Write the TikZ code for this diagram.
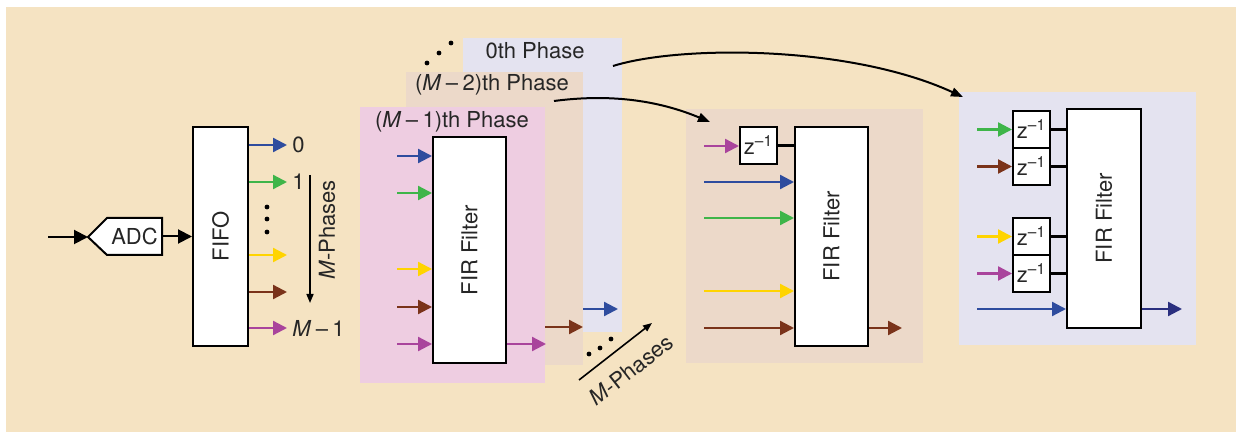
\documentclass[tikz,border=0pt]{standalone}
\usepackage{fontspec}
\setmainfont{TeX Gyre Heros}
\usepackage{xcolor}
\usetikzlibrary{arrows.meta,positioning,calc}
\definecolor{bgbeige}{HTML}{F5E3C2}
\definecolor{lavpanel}{HTML}{E4E3F0}
\definecolor{tanpanel}{HTML}{ECD9C9}
\definecolor{pinkpanel}{HTML}{EECDE1}
\definecolor{cblue}{HTML}{2E4C9E}
\definecolor{cgreen}{HTML}{3EB549}
\definecolor{cyellow}{HTML}{FFD400}
\definecolor{cbrown}{HTML}{7A331A}
\definecolor{cmagenta}{HTML}{A9449C}
\definecolor{cnavy}{HTML}{2A2F7F}

\begin{document}
\begin{tikzpicture}[x=0.5pt, y=-0.5pt,
    every node/.style={font=\fontsize{11}{13}\selectfont, text=black!85},
    box/.style={draw=black, line width=1pt, fill=white, inner sep=0pt},
    panel/.style={draw=none, inner sep=0pt},
    zbox/.style={draw=black, line width=1pt, fill=white, inner sep=0pt, minimum width=18.5pt, minimum height=18.5pt},
    sig/.style={line width=1.15pt, -{Triangle[length=7pt,width=7pt]}},
    link/.style={line width=1.2pt},
    swoop/.style={line width=1pt, -{Triangle[length=6pt,width=4.5pt]}},
    phasearrow/.style={line width=0.8pt, -{Triangle[length=4.5pt,width=3.5pt]}}
]
\useasboundingbox (0,0) rectangle (1236,432);
\fill[bgbeige] (6,7) rectangle (1236,432);

\coordinate (adcin) at (48,237);
\coordinate (adctip) at (88,237);
\draw[line width=1pt, fill=white] (adctip) -- (107,218) -- (162,218) -- (162,255) -- (107,255) -- cycle;
\node[panel, minimum width=27.5pt, minimum height=18.5pt] (adc) at (134.5,236.5) {ADC};
\node[box, minimum width=27.5pt, minimum height=109.5pt, label={[rotate=90]center:FIFO}] (fifo) at (220.5,236.5) {};
\draw[sig, black, line width=1pt] (adcin) -- (adctip);
\draw[sig, black, line width=1pt] (adc.east) -- (fifo.west);

\coordinate (q0) at (287,145);
\coordinate (q1) at (287,182);
\coordinate (q2) at (287,255);
\coordinate (q3) at (287,292);
\coordinate (q4) at (287,328);
\draw[sig, cblue] (fifo.east |- q0) -- (q0);
\draw[sig, cgreen] (fifo.east |- q1) -- (q1);
\draw[sig, cyellow] (fifo.east |- q2) -- (q2);
\draw[sig, cbrown] (fifo.east |- q3) -- (q3);
\draw[sig, cmagenta] (fifo.east |- q4) -- (q4);
\node[right=2.5pt of q0, inner sep=0pt] (n0) {0};
\node[right=2.5pt of q1, inner sep=0pt] (n1) {1};
\node[right=2.5pt of q4, inner sep=0pt] (nm) {\textit{M}\hspace{0.2em}–\hspace{0.2em}1};
\fill (267,207) circle (1.2pt) (267,219) circle (1.2pt) (267,232) circle (1.2pt);
\coordinate (va) at (310,175);
\coordinate (vb) at (310,303);
\draw[phasearrow] (va) -- (vb);
\node[rotate=90] (vtxt) at (327,230) {\textit{M}-Phases};

\node[panel, fill=lavpanel, minimum width=79.5pt, minimum height=147pt] (ph0) at (542.5,185) {};
\node[panel, fill=tanpanel, minimum width=88.5pt, minimum height=146.5pt] (ph2) at (494.5,218.5) {};
\node[panel, fill=pinkpanel, minimum width=92.5pt, minimum height=138pt] (ph1) at (452.5,245) {};
\node (t0) at (535,51) {0th Phase};
\node (t2) at (492,85) {(\textit{M}\hspace{0.2em}–\hspace{0.2em}2)th Phase};
\node (t1) at (452,122) {(\textit{M}\hspace{0.2em}–\hspace{0.2em}1)th Phase};
\node[box, minimum width=36.5pt, minimum height=113pt, label={[rotate=90]center:FIR Filter}] (fira) at (469.5,250) {};
\coordinate (a0) at (397,156);
\coordinate (a1) at (397,193);
\coordinate (a2) at (397,269);
\coordinate (a3) at (397,307);
\coordinate (a4) at (397,344);
\draw[sig, cblue] (a0) -- (fira.west |- a0);
\draw[sig, cgreen] (a1) -- (fira.west |- a1);
\draw[sig, cyellow] (a2) -- (fira.west |- a2);
\draw[sig, cbrown] (a3) -- (fira.west |- a3);
\draw[sig, cmagenta] (a4) -- (fira.west |- a4);
\coordinate (aout) at (546,344);
\draw[sig, cmagenta] (fira.east |- aout) -- (aout);
\coordinate (bout) at (583,327);
\draw[sig, cbrown] (ph1.east |- bout) -- (bout);
\coordinate (cout) at (618,309);
\draw[sig, cblue] (ph2.east |- cout) -- (cout);
\fill (427,63) circle (1.2pt) (439,53) circle (1.2pt) (451,43) circle (1.2pt);
\fill (589,354) circle (1.2pt) (600,348) circle (1.2pt) (611,339) circle (1.2pt);
\coordinate (da) at (579,380);
\coordinate (db) at (652,323);
\draw[phasearrow] (da) -- (db);
\node[rotate=38] (dtxt) at (631,370) {\textit{M}-Phases};

\node[panel, fill=tanpanel, minimum width=118.5pt, minimum height=127pt] (midp) at (804.5,236) {};
\node[zbox] (zb) at (758.5,145.5) {z\textsuperscript{–1}};
\node[box, minimum width=36.5pt, minimum height=109.5pt, label={[rotate=90]center:FIR Filter}] (firb) at (831.5,236.5) {};
\draw[link] (zb.east) -- (firb.west |- zb.east);
\coordinate (b0) at (704,146);
\coordinate (b1) at (704,182);
\coordinate (b2) at (704,218);
\coordinate (b3) at (704,291);
\coordinate (b4) at (704,328);
\draw[sig, cmagenta] (b0) -- (zb.west |- b0);
\draw[sig, cblue] (b1) -- (firb.west |- b1);
\draw[sig, cgreen] (b2) -- (firb.west |- b2);
\draw[sig, cyellow] (b3) -- (firb.west |- b3);
\draw[sig, cbrown] (b4) -- (firb.west |- b4);
\coordinate (bo) at (902,328);
\draw[sig, cbrown] (firb.east |- bo) -- (bo);

\node[panel, fill=lavpanel, minimum width=118.5pt, minimum height=126.5pt] (rightp) at (1077.5,218.5) {};
\node[zbox] (zc1) at (1031.5,129.5) {z\textsuperscript{–1}};
\node[zbox] (zc2) at (1031.5,166.5) {z\textsuperscript{–1}};
\node[zbox] (zc3) at (1031.5,236.5) {z\textsuperscript{–1}};
\node[zbox] (zc4) at (1031.5,273.5) {z\textsuperscript{–1}};
\node[box, minimum width=37pt, minimum height=109.5pt, label={[rotate=90]center:FIR Filter}] (firc) at (1104,218.5) {};
\draw[link] (zc1.east) -- (firc.west |- zc1.east);
\draw[link] (zc2.east) -- (firc.west |- zc2.east);
\draw[link] (zc3.east) -- (firc.west |- zc3.east);
\draw[link] (zc4.east) -- (firc.west |- zc4.east);
\coordinate (e1) at (977,129.5);
\coordinate (e2) at (977,166.5);
\coordinate (e3) at (977,236.5);
\coordinate (e4) at (977,273.5);
\coordinate (e5) at (977,309);
\draw[sig, cgreen] (e1) -- (zc1.west);
\draw[sig, cbrown] (e2) -- (zc2.west);
\draw[sig, cyellow] (e3) -- (zc3.west);
\draw[sig, cmagenta] (e4) -- (zc4.west);
\draw[sig, cblue] (e5) -- (firc.west |- e5);
\coordinate (eo) at (1182,309);
\draw[sig, cnavy] (firc.east |- eo) -- (eo);

\coordinate (c0s) at (613,66);
\coordinate (c0e) at (963,97);
\draw[swoop] (c0s) .. controls (680,45) and (850,45) .. (c0e);
\coordinate (c2s) at (554,101);
\coordinate (c2e) at (710,122);
\draw[swoop] (c2s) .. controls (600,95) and (650,97) .. (c2e);
\end{tikzpicture}
\end{document}
